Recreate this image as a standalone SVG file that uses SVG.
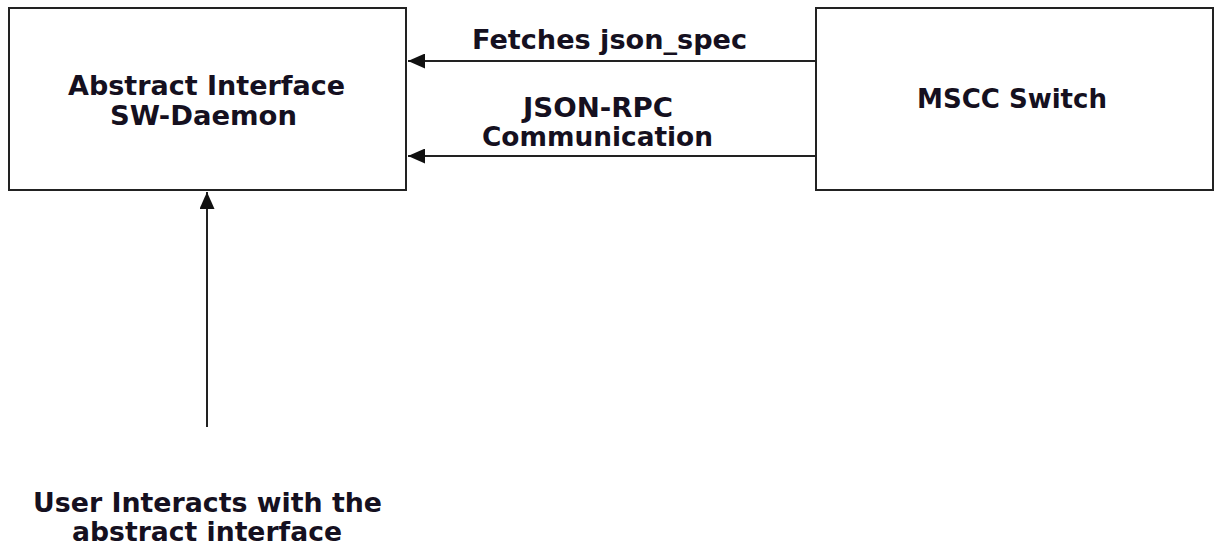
<svg xmlns="http://www.w3.org/2000/svg" width="1215" height="545" viewBox="0 0 1215 545">
<style>
.box{fill:#fff;stroke:#222;stroke-width:2}
.lbl{font-family:"DejaVu Sans","Verdana",sans-serif;font-weight:bold;font-size:26px;fill:#151020;text-anchor:middle}
.conn{stroke:#222;stroke-width:2;fill:none}
</style>
<defs>
<marker id="ah" viewBox="0 0 17 15" refX="17" refY="7.5" markerWidth="17" markerHeight="15" markerUnits="userSpaceOnUse" orient="auto">
<path d="M0,0 L17,7.5 L0,15 Z" fill="#111"/>
</marker>
</defs>
<rect width="1215" height="545" fill="#fff"/>
<g id="daemon">
<rect class="box" x="9" y="8" width="397" height="182"/>
<text class="lbl" x="206.5" y="95" textLength="277" lengthAdjust="spacingAndGlyphs">Abstract Interface</text>
<text class="lbl" x="203.5" y="125" textLength="187" lengthAdjust="spacingAndGlyphs">SW-Daemon</text>
</g>
<g id="switch">
<rect class="box" x="816" y="8" width="397" height="182"/>
<text class="lbl" x="1012" y="108" textLength="190" lengthAdjust="spacingAndGlyphs">MSCC Switch</text>
</g>
<g id="user">
<text class="lbl" x="207.5" y="512" textLength="349" lengthAdjust="spacingAndGlyphs">User Interacts with the</text>
<text class="lbl" x="207" y="541" textLength="270" lengthAdjust="spacingAndGlyphs">abstract interface</text>
</g>
<g id="connectors">
<line class="conn" x1="816" y1="61" x2="408" y2="61" marker-end="url(#ah)"/>
<text class="lbl" x="609.5" y="49" textLength="275" lengthAdjust="spacingAndGlyphs">Fetches json_spec</text>
<line class="conn" x1="816" y1="156" x2="408" y2="156" marker-end="url(#ah)"/>
<text class="lbl" x="598" y="117" textLength="150" lengthAdjust="spacingAndGlyphs">JSON-RPC</text>
<text class="lbl" x="597.5" y="146" textLength="231" lengthAdjust="spacingAndGlyphs">Communication</text>
<line class="conn" x1="207" y1="427" x2="207" y2="192" marker-end="url(#ah)"/>
</g>
</svg>
